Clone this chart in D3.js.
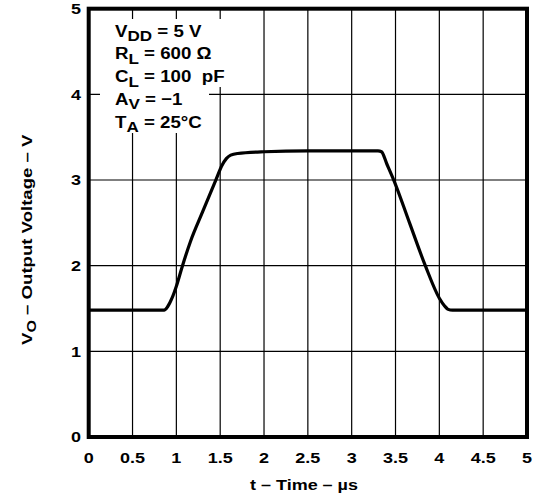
<!DOCTYPE html>
<html>
<head>
<meta charset="utf-8">
<script src="https://cdn.jsdelivr.net/npm/d3@7"></script>
<style>
  body { margin: 0; background: #fff; }
  svg text { font-family: "Liberation Sans", Arial, sans-serif; font-weight: bold; fill: #000; white-space: pre; }
</style>
</head>
<body>
<div id="chart"></div>
<script>
// Data
var timeUs = [0, 0.5, 0.86, 0.9, 0.95, 1.0, 1.07, 1.16, 1.3, 1.45, 1.52, 1.57, 1.62, 1.7, 2.0, 2.5, 3.0, 3.3, 3.34, 3.4, 3.48, 3.66, 3.84, 4.0, 4.06, 4.1, 4.15, 4.5, 5];
var voltage = [1.48, 1.48, 1.48, 1.52, 1.62, 1.76, 2.0, 2.28, 2.63, 3.0, 3.17, 3.25, 3.29, 3.31, 3.33, 3.34, 3.34, 3.34, 3.33, 3.19, 3.0, 2.5, 2.0, 1.62, 1.53, 1.49, 1.48, 1.48, 1.48];
var xTicks = [0, 0.5, 1, 1.5, 2, 2.5, 3, 3.5, 4, 4.5, 5];
var yTicks = [0, 1, 2, 3, 4, 5];
var notes = [
    { main: "V", sub: "DD", rest: " = 5 V" },
    { main: "R", sub: "L", rest: " = 600 \u03A9" },
    { main: "C", sub: "L", rest: " = 100  pF" },
    { main: "A", sub: "V", rest: " = \u22121" },
    { main: "T", sub: "A", rest: " = 25\u00B0C" }
];

var svgWidth = 556;
var svgHeight = 503;

var plot = { left: 88.7, right: 527, top: 8.7, bottom: 437 };

// the reference type is set wider than Arial, so stretch it a little
var stretch = 1.2;

var svg = d3.select("#chart")
    .append("svg")
    .attr("width", svgWidth)
    .attr("height", svgHeight);

var x = d3.scaleLinear().domain([0, 5]).range([plot.left, plot.right]);
var y = d3.scaleLinear().domain([0, 5]).range([plot.bottom, plot.top]);

// grid
svg.append("g")
    .selectAll("line")
    .data(xTicks.slice(1, -1))
    .enter()
    .append("line")
    .attr("x1", d => x(d)).attr("x2", d => x(d))
    .attr("y1", plot.top).attr("y2", plot.bottom)
    .attr("stroke", "#000").attr("stroke-width", 1.2);

svg.append("g")
    .selectAll("line")
    .data(yTicks.slice(1, -1))
    .enter()
    .append("line")
    .attr("x1", plot.left).attr("x2", plot.right)
    .attr("y1", d => y(d)).attr("y2", d => y(d))
    .attr("stroke", "#000").attr("stroke-width", 1.2);

// white area behind the conditions text
svg.append("rect")
    .attr("x", 100).attr("y", 19).attr("width", 109).attr("height", 114)
    .attr("fill", "#fff");
svg.append("rect")
    .attr("x", 100).attr("y", 19).attr("width", 125).attr("height", 68)
    .attr("fill", "#fff");

// curve
var line = d3.line()
    .x((d, i) => x(timeUs[i]))
    .y(d => y(d))
    .curve(d3.curveMonotoneX);

svg.append("path")
    .datum(voltage)
    .attr("d", line)
    .attr("fill", "none")
    .attr("stroke", "#000")
    .attr("stroke-width", 3.2)
    .attr("stroke-linejoin", "round");

// frame
svg.append("rect")
    .attr("x", plot.left).attr("y", plot.top)
    .attr("width", plot.right - plot.left)
    .attr("height", plot.bottom - plot.top)
    .attr("fill", "none")
    .attr("stroke", "#000")
    .attr("stroke-width", 4);

// tick labels
svg.append("g")
    .selectAll("text")
    .data(xTicks)
    .enter()
    .append("text")
    .attr("transform", d => `translate(${x(d)}, 463) scale(${stretch}, 1)`)
    .attr("text-anchor", "middle")
    .attr("font-size", "15px")
    .text(d => d);

svg.append("g")
    .selectAll("text")
    .data(yTicks)
    .enter()
    .append("text")
    .attr("transform", d => `translate(81, ${y(d)}) scale(${stretch}, 1)`)
    .attr("dy", "0.36em")
    .attr("text-anchor", "end")
    .attr("font-size", "15px")
    .text(d => d);

// axis titles
svg.append("text")
    .attr("transform", `translate(304, 490) scale(${stretch}, 1)`)
    .attr("text-anchor", "middle")
    .attr("font-size", "15px")
    .text("t \u2013 Time \u2013 \u00B5s");

var yTitle = svg.append("text")
    .attr("transform", "translate(32, 345) rotate(-90) scale(1.24, 1)")
    .attr("font-size", "15px");
yTitle.append("tspan").text("V");
yTitle.append("tspan").attr("dy", 4).attr("font-size", "13px").text("O");
yTitle.append("tspan").attr("dy", -4).text(" \u2013 Output Voltage \u2013 V");

// conditions
var noteGroup = svg.append("g");
notes.forEach(function(n, i) {
    var t = noteGroup.append("text")
        .attr("transform", `translate(115, ${36.7 + i * 22.7}) scale(1.1, 1)`)
        .attr("font-size", "17px");
    t.append("tspan").text(n.main);
    t.append("tspan").attr("dy", 4.5).attr("font-size", "15.5px").text(n.sub);
    t.append("tspan").attr("dy", -4.5).text(n.rest);
});
</script>
</body>
</html>
